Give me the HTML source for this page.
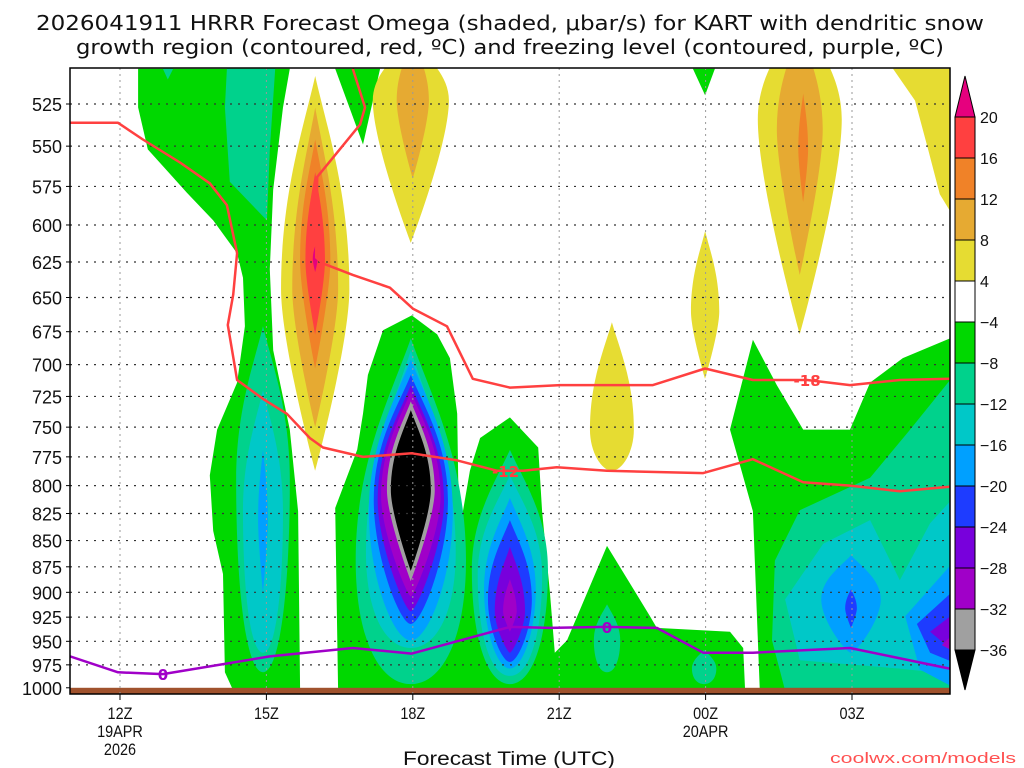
<!DOCTYPE html>
<html><head><meta charset="utf-8"><style>
html,body{margin:0;padding:0;background:#fff;}
svg{display:block;}
</style></head><body>
<svg id="chart" xmlns="http://www.w3.org/2000/svg" width="1024" height="768" viewBox="0 0 1024 768">
<rect x="0" y="0" width="1024" height="768" fill="#fff"/>
<text x="510" y="30" text-anchor="middle" font-family="DejaVu Sans, Liberation Sans, sans-serif" font-size="20" textLength="948" lengthAdjust="spacingAndGlyphs" fill="#111">2026041911 HRRR Forecast Omega (shaded, μbar/s) for KART with dendritic snow</text>
<text x="510" y="54" text-anchor="middle" font-family="DejaVu Sans, Liberation Sans, sans-serif" font-size="20" textLength="868" lengthAdjust="spacingAndGlyphs" fill="#111">growth region (contoured, red, ºC) and freezing level (contoured, purple, ºC)</text>
<defs><clipPath id="plotclip"><rect x="70" y="68" width="880" height="626"/></clipPath></defs>
<g id="shades" clip-path="url(#plotclip)"></g>
<g id="grid"></g>
<g id="lines" clip-path="url(#plotclip)"></g>
<g id="axes"></g>
<g id="cbar"></g>
<text x="509" y="765" text-anchor="middle" font-family="Liberation Sans, sans-serif" font-size="19" textLength="212" lengthAdjust="spacingAndGlyphs" fill="#111">Forecast Time (UTC)</text>
<text x="1016" y="763" text-anchor="end" font-family="Liberation Sans, sans-serif" font-size="15" textLength="186" lengthAdjust="spacingAndGlyphs" fill="#ff5050">coolwx.com/models</text>
</svg>
<script>
// ---- data ----
const levelValues = [20,16,12,8,4,-4,-8,-12,-16,-20,-24,-28,-32,-36];
const levelColors = ['#e6007e','#ff4040','#f08228','#e6aa32','#e6dc32','#00d800','#00d28c','#00c8c8','#00a0ff','#1e3cff','#7800dc','#a000c8','#a0a0a0','#000000'];
const pressureTicks = [525,550,575,600,625,650,675,700,725,750,775,800,825,850,875,900,925,950,975,1000];
const timeTicks = [0,3,6,9,12,15];
const timeLabels = ['12Z','15Z','18Z','21Z','00Z','03Z'];
const dateLabels = {0:['19APR','2026'],12:['20APR']};
const cbarLabels = [20,16,12,8,4,-4,-8,-12,-16,-20,-24,-28,-32,-36];
// polygons: [level, [[t,p],...]] t=hours from 12Z, p=hPa
const polyRegions = [
 [-4, [[0.37,505],[0.37,527],[0.57,552],[1.02,567],[1.37,579],[1.91,597],[2.40,619],[2.52,636],[2.56,671],[2.40,714],[1.99,752],[1.84,791],[1.91,841],[2.11,882],[2.15,983],[2.32,1003],[3.69,1003],[3.65,823],[3.48,752],[3.14,689],[3.07,630],[3.14,577],[3.34,527],[3.48,505]]],
 [-4, [[4.41,505],[5.33,505],[4.98,549]]],
 [-4, [[11.74,505],[12.19,505],[11.99,520]]],
 [-4, [[4.47,1003],[4.41,820],[4.86,769],[4.98,739],[5.08,708],[5.39,674],[5.98,663],[6.50,677],[6.76,695],[6.91,739],[6.93,794],[6.97,838],[7.17,787],[7.38,759],[7.99,742],[8.57,767],[8.65,823],[8.81,900],[8.91,962],[9.16,949],[9.98,855],[10.86,924],[11.00,936],[12.50,940],[12.77,957],[12.81,1003]]],
 [-4, [[12.97,681],[13.46,716],[14.0,752],[14.96,752],[15.37,714],[16.04,695],[17.2,677],[17.2,1003],[13.11,1003],[12.97,823],[12.50,752]]],
 [-8, [[2.19,505],[2.15,527],[2.25,572],[3.01,597],[3.07,552],[3.18,505]]],
 [-8, [[0.88,505],[1.09,505],[0.98,511]]],
 [-8, [[13.42,869],[13.93,822],[15.37,793],[16.19,752],[17.2,703],[17.2,1003],[13.63,1003],[13.36,949]]],
 [-12, [[13.63,907],[14.41,853],[15.37,831],[15.98,888],[16.6,834],[17.2,805],[17.2,986],[15.98,979],[13.93,970]]],
 [-16, [[16.09,924],[17.2,864],[17.2,1003],[16.39,980]]],
 [-20, [[16.33,932],[17.2,893],[17.2,975],[16.6,962]]],
 [-24, [[16.6,940],[17.2,917],[17.2,966]]],
 [-28, [[16.84,954],[17.2,936],[17.2,964]]],
 [4, [[15.84,505],[16.29,523],[16.56,552],[16.8,580],[17.2,601],[17.2,505]]]
];
// blobs: [level, t, pTop, pWide, pBottom, halfWidthHours, roundBottom]
const blobs = [
 [-8, 5.96,680,869,996,1.13,1],[-12,5.96,689,861,957,0.92,1],[-16,5.96,696,823,949,0.86,0.7],[-20,5.96,708,813,932,0.76,0.5],
 [-24,5.96,716,813,919,0.68,0.3],[-28,5.96,721,809,904,0.61,0.2],[-32,5.96,729,804,889,0.49,0],[-36,5.96,736,804,879,0.41,0],
 [-8, 7.99,769,878,996,0.78,1],[-12,7.99,791,883,987,0.66,1],[-16,7.99,811,897,979,0.53,0.8],[-20,7.99,831,907,972,0.45,0.6],
 [-24,7.99,856,919,962,0.31,0.3],[-28,7.99,887,919,940,0.14,0],
 [-8, 2.93,671,795,983,0.55,1],[-12,2.93,720,823,962,0.41,1],[-16,2.93,769,831,900,0.10,0],
 [-8, 9.98,912,949,983,0.27,1],[-8, 11.97,959,979,996,0.25,1],
 [-16,14.98,864,907,962,0.61,0.3],[-20,14.98,897,916,936,0.12,0],
 [4, 4.0,509,644,787,0.70,0],[8,4.0,527,644,750,0.47,0],[12,4.0,546,624,703,0.31,0],[16,4.0,566,624,677,0.20,0],[20,4.0,614,623,632,0.05,0],
 [4, 5.96,489,523,612,0.78,0],[8,6.0,489,523,570,0.33,0],
 [4, 10.08,668,752,787,0.45,0.8],
 [4, 11.99,604,660,711,0.29,0],
 [4, 13.93,477,534,677,0.86,0],[8,13.93,483,540,634,0.47,0],[12,14.0,519,552,585,0.10,0]
];
const line12 = [[-1.02,536],[-0.04,536],[0.47,546],[1.23,560],[1.84,573],[2.19,587],[2.40,619],[2.32,648],[2.21,670],[2.40,712],[2.93,727],[3.42,739],[3.89,759],[4.16,767],[4.98,775],[5.98,772],[6.91,778],[7.73,787],[8.26,787],[8.95,784],[9.98,787],[11.95,789],[12.97,777],[14.0,797],[14.96,800],[15.98,805],[17.0,801]];
const line18 = [[4.77,505],[5.02,527],[4.92,537],[4.04,569],[4.02,622],[4.16,626],[4.77,634],[5.53,643],[6.0,658],[6.70,671],[7.23,711],[7.99,718],[9.02,716],[10.92,716],[11.99,703],[12.97,712],[14.08,712],[14.96,716],[15.98,712],[17.0,711]];
const freezeLine = [[-1.02,966],[-0.04,983],[0.88,985],[3.07,966],[4.77,957],[5.98,963],[7.99,935],[8.81,936],[9.98,935],[11.0,936],[11.95,962],[12.97,962],[14.96,957],[17.0,979]];
const lineLabels = [['-12',7.9,787,'#ff4040'],['-18',14.08,712,'#ff4040'],['0',0.88,985,'#a000c8'],['0',9.98,935,'#a000c8']];

// ---- axes (log-pressure) ----
const X = t => 120 + 48.8*t;
const Y = p => 104 + 906*Math.log(p/525);
const NS='http://www.w3.org/2000/svg';
function mk(tag, attrs, parent){const e=document.createElementNS(NS,tag);for(const k in attrs)e.setAttribute(k,attrs[k]);parent.appendChild(e);return e;}
const colorOf = lv => levelColors[levelValues.indexOf(lv)];
const shades=document.getElementById('shades');
const items=[];
polyRegions.forEach(r=>items.push({lv:r[0],kind:'poly',d:r[1]}));
blobs.forEach(b=>items.push({lv:b[0],kind:'blob',d:b}));
items.sort((a,b)=>Math.abs(a.lv)-Math.abs(b.lv));
items.forEach(it=>{
 let d;
 if(it.kind==='poly'){
  d='M'+it.d.map(q=>X(q[0]).toFixed(1)+','+Y(q[1]).toFixed(1)).join(' L')+' Z';
 } else {
  const [lv,t,pT,pW,pB,hw,rb]=it.d;
  const cx=X(t),yT=Y(pT),yW=Y(pW),yB=Y(pB),w=X(t+hw)-X(t);
  const a=yT+(yW-yT)*0.25,b=yW-(yW-yT)*0.45,c=yW+(yB-yW)*(0.3+0.3*rb),k=w*rb*0.6;
  d=`M${cx},${yT} C${cx+w*0.35},${a} ${cx+w},${b} ${cx+w},${yW} C${cx+w},${c} ${cx+k},${yB} ${cx},${yB} C${cx-k},${yB} ${cx-w},${c} ${cx-w},${yW} C${cx-w},${b} ${cx-w*0.35},${a} ${cx},${yT} Z`;
 }
 const e=mk('path',{d:d,fill:colorOf(it.lv)},shades);
 
 
});
const gr=mk('rect',{x:70,y:Y(1000),width:880,height:694-Y(1000),fill:'#a0522d'},shades);



// grid
const grid=document.getElementById('grid');
pressureTicks.forEach(p=>{
 if(p===1000)return;
 const l=mk('line',{x1:70,x2:950,y1:Y(p),y2:Y(p),stroke:'#333','stroke-width':1.2,'stroke-dasharray':'2,6'},grid);
 
 
});
timeTicks.forEach(t=>{
 const l=mk('line',{x1:X(t),x2:X(t),y1:68,y2:694,stroke:'#999','stroke-width':1,'stroke-dasharray':'2,4'},grid);
 
 
});

// lines
const lines=document.getElementById('lines');
function pl(arr,col,w,name){
 const e=mk('polyline',{points:arr.map(q=>X(q[0]).toFixed(1)+','+Y(q[1]).toFixed(1)).join(' '),fill:'none',stroke:col,'stroke-width':w,'stroke-linejoin':'round'},lines);
 
 
}
pl(line12,'#ff4040',2.5,'dgz-minus12-contour');
pl(line18,'#ff4040',2.5,'dgz-minus18-contour');
pl(freezeLine,'#a000c8',2.5,'freezing-level-contour');
lineLabels.forEach(L=>{
 const tx=mk('text',{x:X(L[1]),y:Y(L[2])+6,'text-anchor':'middle','font-family':'DejaVu Sans, sans-serif','font-size':15,'font-weight':'bold',fill:L[3]},lines);
 tx.textContent=L[0];
 
 
});

// axes
const axes=document.getElementById('axes');
const fr=mk('rect',{x:70,y:68,width:880,height:626,fill:'none',stroke:'#000','stroke-width':1.5},axes);


pressureTicks.forEach(p=>{
 const tx=mk('text',{x:62,y:Y(p)+7,'text-anchor':'end','font-family':'Liberation Sans, sans-serif','font-size':18,fill:'#111'},axes);
 tx.textContent=p;
 
 
 const tk=mk('line',{x1:66,x2:70,y1:Y(p),y2:Y(p),stroke:'#000'},axes);
 
 
});
timeTicks.forEach((t,i)=>{
 const tk=mk('line',{x1:X(t),x2:X(t),y1:694,y2:700,stroke:'#000'},axes);
 
 
 const lines2=[timeLabels[i]].concat(dateLabels[t]||[]);
 lines2.forEach((s,j)=>{
  const tx=mk('text',{x:X(t),y:719+j*18,'text-anchor':'middle','font-family':'Liberation Sans, sans-serif','font-size':17,fill:'#111',transform:`translate(${X(t)},0) scale(0.85,1) translate(${-X(t)},0)`},axes);
  tx.textContent=s;
  
  
 });
});

// colorbar
const cb=document.getElementById('cbar');
const bx=955,bw=20,top0=117,bh=41;
const tri1=mk('polygon',{points:`${bx},${top0} ${bx+bw},${top0} ${bx+bw/2},76`,fill:levelColors[0],stroke:'#000','stroke-width':1},cb);


const boxColors=['#ff4040','#f08228','#e6aa32','#e6dc32','#ffffff','#00d800','#00d28c','#00c8c8','#00a0ff','#1e3cff','#7800dc','#a000c8','#a0a0a0'];
boxColors.forEach((c,i)=>{
 const r=mk('rect',{x:bx,y:top0+i*bh,width:bw,height:bh,fill:c,stroke:'#000','stroke-width':1},cb);
 
 
});
const yb=top0+13*bh;
const tri2=mk('polygon',{points:`${bx},${yb} ${bx+bw},${yb} ${bx+bw/2},${yb+40}`,fill:'#000',stroke:'#000','stroke-width':1},cb);


cbarLabels.forEach((v,i)=>{
 const tx=mk('text',{x:980,y:top0+i*bh+6,'font-family':'Liberation Sans, sans-serif','font-size':16,fill:'#111'},cb);
 tx.textContent=(v<0?'\u2212':'')+Math.abs(v);
 
 
});
</script>
</body></html>
